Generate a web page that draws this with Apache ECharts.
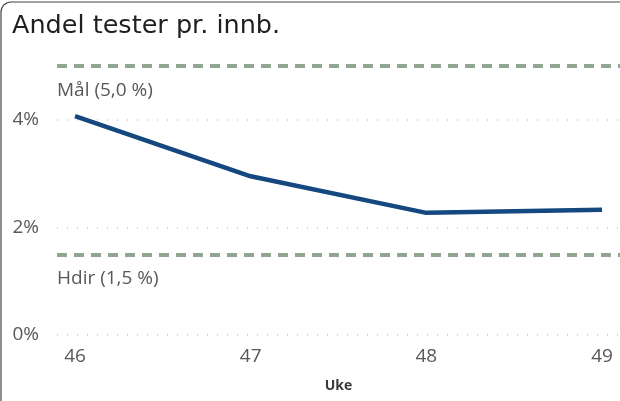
<!DOCTYPE html>
<html>
<head>
<meta charset="utf-8">
<script src="https://cdn.jsdelivr.net/npm/echarts@6/dist/echarts.min.js"></script>
<style>
  html, body { margin: 0; padding: 0; background: #fff; }
  #chart { width: 620px; height: 401px; }
</style>
</head>
<body>
<div id="chart"></div>
<script>
// uker og andel tester pr. innbygger (%)
var weeks = ['46', '47', '48', '49'];
var testShare = [4.07, 2.95, 2.27, 2.33];
// referanselinjer
var targetNames = ['Mål (5,0 %)', 'Hdir (1,5 %)'];
var targetValues = [5.0, 1.5];

var labelFont = '"Open Sans", "Noto Sans", sans-serif';
var chart = echarts.init(document.getElementById('chart'));

var yBase = {
    type: 'value',
    min: 0,
    max: 5,
    interval: 2
};

chart.setOption({
    animation: false,
    title: {
        text: 'Andel tester pr. innb.',
        left: 7,
        top: 8,
        textStyle: {
            fontFamily: '"DejaVu Sans", sans-serif',
            fontWeight: 'normal',
            fontSize: 25.5,
            color: '#201f1e'
        }
    },
    graphic: [{
        type: 'rect',
        shape: { x: 1, y: 2, width: 700, height: 500, r: 10 },
        style: { fill: null, stroke: '#444', lineWidth: 1.2 },
        silent: true
    }],
    grid: [
        { left: 57, right: 0, top: 66, bottom: 66 },
        { left: 75, right: 18, top: 66, bottom: 66 }
    ],
    xAxis: [{
        gridIndex: 0,
        type: 'category',
        data: weeks,
        show: false
    }, {
        gridIndex: 1,
        type: 'category',
        data: weeks,
        boundaryGap: false,
        name: 'Uke',
        nameLocation: 'middle',
        nameGap: 44,
        nameTextStyle: {
            fontFamily: labelFont,
            fontWeight: 'bold',
            fontSize: 14,
            color: '#3b3a39'
        },
        axisLine: { show: false },
        axisTick: { show: false },
        axisLabel: {
            margin: 12,
            fontFamily: labelFont,
            fontSize: 19,
            color: '#5a5856'
        }
    }],
    yAxis: [Object.assign({}, yBase, {
        gridIndex: 0,
        axisLine: { show: false },
        axisTick: { show: false },
        axisLabel: {
            margin: 18,
            showMaxLabel: false,
            fontFamily: labelFont,
            fontSize: 19,
            color: '#5a5856',
            formatter: '{value}%'
        },
        splitLine: {
            showMaxLine: false,
            lineStyle: { color: '#c8c8c8', type: [1, 9], width: 1.5 }
        }
    }), Object.assign({}, yBase, {
        gridIndex: 1,
        show: false
    })],
    series: [{
        type: 'line',
        xAxisIndex: 0,
        yAxisIndex: 0,
        data: [],
        silent: true,
        markLine: {
            symbol: 'none',
            silent: true,
            lineStyle: { color: '#91a691', type: [10, 7], width: 4 },
            label: {
                position: 'insideStartBottom',
                distance: [0, 15],
                fontFamily: labelFont,
                fontSize: 19,
                color: '#5a5856',
                formatter: function (p) { return p.name; }
            },
            data: targetValues.map(function (v, i) {
                return { name: targetNames[i], yAxis: v };
            })
        }
    }, {
        type: 'line',
        xAxisIndex: 1,
        yAxisIndex: 1,
        data: testShare,
        symbol: 'none',
        lineStyle: { color: '#14487f', width: 4.5 }
    }]
});
</script>
</body>
</html>
